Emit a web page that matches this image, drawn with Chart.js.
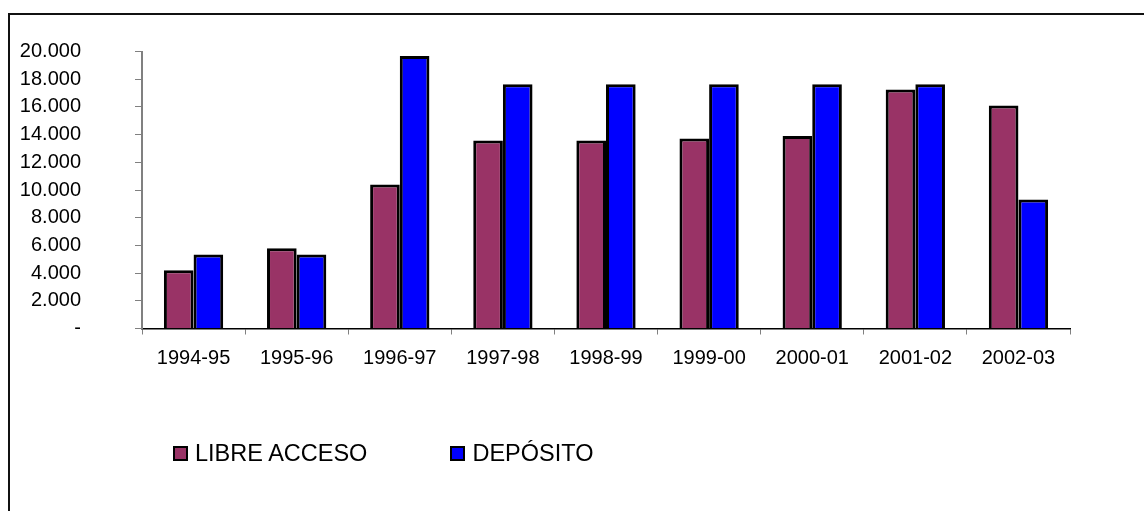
<!DOCTYPE html>
<html>
<head>
<meta charset="utf-8">
<script src="https://cdn.jsdelivr.net/npm/chart.js@4.4.1/dist/chart.umd.min.js"></script>
<style>
    html, body { margin: 0; padding: 0; background: #fff; overflow: hidden; }
    #wrap { position: relative; width: 1144px; height: 511px; }
    #frame {
        position: absolute; left: 8px; top: 13px; width: 1200px; height: 600px;
        border: 2px solid #111; box-sizing: border-box;
    }
    #chartBox { position: absolute; left: 0; top: 0; width: 1144px; height: 511px; }
    #legend {
        position: absolute; left: 173px; top: 440px;
        display: flex; align-items: center;
        font-family: "Liberation Sans", Arial, sans-serif; font-size: 23.5px; color: #000;
    }
    .item { display: flex; align-items: center; margin-right: 83px; }
    .swatch { width: 15px; height: 15px; box-sizing: border-box; border: 2px solid #000; margin-right: 7px; }
</style>
</head>
<body>
<div id="wrap">
    <div id="frame"></div>
    <div id="chartBox"><canvas id="barChart"></canvas></div>
    <div id="legend"></div>
</div>
<script>
const categories = ['1994-95', '1995-96', '1996-97', '1997-98', '1998-99', '1999-00', '2000-01', '2001-02', '2002-03'];
const libreAcceso = [4200, 5800, 10400, 13575, 13575, 13720, 13900, 17260, 16100];
const deposito = [5350, 5350, 19680, 17630, 17630, 17630, 17630, 17630, 9320];
const seriesNames = ['LIBRE ACCESO', 'DEPÓSITO'];
const seriesColors = ['#993366', '#0000FF'];
const yTickLabels = ['-', '2.000', '4.000', '6.000', '8.000', '10.000', '12.000', '14.000', '16.000', '18.000', '20.000'];

const fontFamily = '"Liberation Sans", Arial, sans-serif';

function buildLegend() {
    const legend = document.getElementById('legend');
    seriesNames.forEach((name, i) => {
        const item = document.createElement('div');
        item.className = 'item';
        const swatch = document.createElement('div');
        swatch.className = 'swatch';
        swatch.style.background = seriesColors[i];
        const text = document.createElement('span');
        text.textContent = name;
        item.appendChild(swatch);
        item.appendChild(text);
        legend.appendChild(item);
    });
}

function drawChart() {
    const ctx = document.getElementById('barChart').getContext('2d');

    const chartData = {
        labels: categories,
        datasets: [
            { label: seriesNames[0], data: libreAcceso, backgroundColor: seriesColors[0], borderColor: '#000', borderWidth: 3 },
            { label: seriesNames[1], data: deposito, backgroundColor: seriesColors[1], borderColor: '#000', borderWidth: 3 }
        ]
    };

    const config = {
        type: 'bar',
        data: chartData,
        options: {
            responsive: true,
            maintainAspectRatio: false,
            animation: false,
            layout: { padding: { left: 19, right: 74, top: 51.5, bottom: 128.5 } },
            datasets: { bar: { categoryPercentage: 0.575, barPercentage: 1 } },
            plugins: {
                legend: { display: false },
                tooltip: { enabled: false }
            },
            scales: {
                x: {
                    grid: { display: true, drawOnChartArea: false, color: '#808080', tickLength: 6, offset: true },
                    border: { display: true, color: '#000', width: 1.5 },
                    ticks: { color: '#000', padding: 12, font: { family: fontFamily, size: 20 } }
                },
                y: {
                    min: 0,
                    max: 20000,
                    // fixed width, and the big label gap should not push the top/bottom in
                    afterFit: (scale) => {
                        scale.width = 123;
                        scale.paddingTop = 12;
                        scale.paddingBottom = 12;
                    },
                    grid: { display: true, drawOnChartArea: false, color: '#808080', tickLength: 7 },
                    border: { display: true, color: '#808080', width: 2 },
                    ticks: {
                        stepSize: 2000,
                        autoSkip: false,
                        color: '#000',
                        padding: 54,
                        font: { family: fontFamily, size: 20 },
                        callback: (value, index) => yTickLabels[index]
                    }
                }
            }
        }
    };

    new Chart(ctx, config);
}

buildLegend();
drawChart();
</script>
</body>
</html>
